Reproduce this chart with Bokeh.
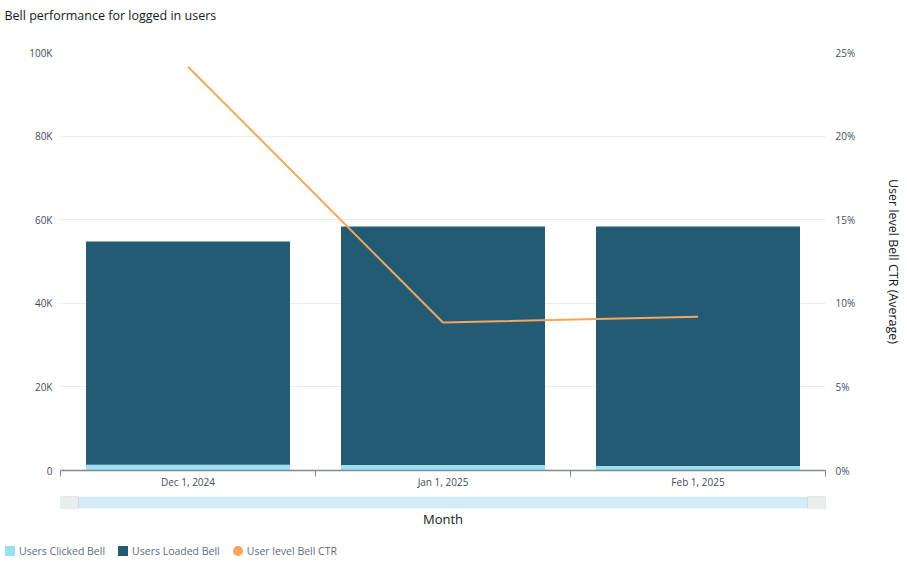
from bokeh.plotting import figure
from bokeh.models import (Range1d, LinearAxis, FixedTicker, NumeralTickFormatter, ColumnDataSource,
                          Title, Div)
from bokeh.layouts import column
from bokeh.embed import file_html
from bokeh.resources import INLINE

months = ["Dec 1, 2024", "Jan 1, 2025", "Feb 1, 2025"]
users_clicked = [1400, 1300, 1100]
users_loaded = [53400, 57100, 57300]
ctr = [0.2415, 0.0885, 0.092]
left_ticks = [0, 20000, 40000, 60000, 80000, 100000]
left_labels = ["0", "20K", "40K", "60K", "80K", "100K"]
right_ticks = [0, 0.05, 0.10, 0.15, 0.20, 0.25]
series_names = ["Users Clicked Bell", "Users Loaded Bell", "User level Bell CTR"]

FONT = "Open Sans"
LIGHT = "#9bdff0"
DARK = "#235b75"
ORANGE = "#f5a65b"
AXIS = "#7d8998"
GRID = "#e9ebed"
LABEL = "#414d5c"
FRAME_L, FRAME_W, FRAME_R = 60, 765, 82

n = len(months)
centers = [i + 0.5 for i in range(n)]
bounds = [float(i) for i in range(n + 1)]
unit = FRAME_W / n

# ---- main chart ----
src = ColumnDataSource(dict(x=centers, clicked=users_clicked, loaded=users_loaded, ctr=ctr))

p = figure(frame_width=FRAME_W, frame_height=418, x_range=Range1d(0, n),
           y_range=Range1d(0, 100000), min_border_left=FRAME_L, min_border_right=FRAME_R,
           min_border_top=52, min_border_bottom=26, output_backend="svg",
           toolbar_location=None)
p.outline_line_color = None
# spacer between title and plot area, then the title itself
p.add_layout(Title(text=" ", text_font_size="1px", standoff=26), "above")
p.add_layout(Title(text="Bell performance for logged in users", align="left", offset=-56,
                   standoff=0, text_font=FONT, text_font_size="12.5px",
                   text_font_style="normal", text_color="#16191f"), "above")

p.vbar_stack(["clicked", "loaded"], x="x", width=0.8, source=src,
             color=[LIGHT, DARK], line_color=None)

p.extra_y_ranges = {"ctr": Range1d(0, 0.25)}
p.line("x", "ctr", source=src, y_range_name="ctr", line_color=ORANGE, line_width=2)

xa = p.xaxis[0]
xa.ticker = FixedTicker(ticks=centers, minor_ticks=bounds)
xa.major_label_overrides = {c: m for c, m in zip(centers, months)}
xa.major_tick_line_color = None
xa.major_tick_in = 0
xa.major_tick_out = 0
xa.minor_tick_in = 0
xa.minor_tick_out = 6
xa.minor_tick_line_color = AXIS
xa.axis_line_color = AXIS
xa.axis_line_width = 1.5
xa.major_label_standoff = -2
xa.major_label_text_font = FONT
xa.major_label_text_font_size = "10px"
xa.major_label_text_color = LABEL

ya = p.yaxis[0]
ya.ticker = FixedTicker(ticks=left_ticks)
ya.major_label_overrides = {t: l for t, l in zip(left_ticks, left_labels)}
ya.axis_line_color = None
ya.major_tick_line_color = None
ya.major_tick_out = 0
ya.major_tick_in = 0
ya.minor_tick_line_color = None
ya.major_label_standoff = 8
ya.major_label_text_font = FONT
ya.major_label_text_font_size = "10px"
ya.major_label_text_color = LABEL

p.xgrid.visible = False
p.ygrid.ticker = FixedTicker(ticks=left_ticks)
p.ygrid.grid_line_color = GRID

ra = LinearAxis(y_range_name="ctr", ticker=FixedTicker(ticks=right_ticks),
                formatter=NumeralTickFormatter(format="0%"),
                axis_label="User level Bell CTR (Average)")
ra.axis_line_color = None
ra.major_tick_line_color = None
ra.major_tick_out = 0
ra.major_tick_in = 0
ra.minor_tick_line_color = None
ra.major_label_standoff = 10
ra.major_label_text_font = FONT
ra.major_label_text_font_size = "10px"
ra.major_label_text_color = LABEL
ra.axis_label_orientation = "vertical"
ra.axis_label_standoff = 27
ra.axis_label_text_font = FONT
ra.axis_label_text_font_size = "12.5px"
ra.axis_label_text_font_style = "normal"
ra.axis_label_text_color = "#16191f"
p.add_layout(ra, "right")

# ---- lower strip: scrollbar (frame) and axis title ----
p2 = figure(frame_width=FRAME_W, frame_height=12, x_range=p.x_range, y_range=Range1d(0, 1),
            min_border_left=FRAME_L, min_border_right=FRAME_R, min_border_top=0,
            min_border_bottom=30, output_backend="svg", toolbar_location=None)
p2.yaxis.visible = False
p2.grid.visible = False
p2.outline_line_color = None

hw = 18 / unit
p2.quad(left=[0], right=[n], top=[1], bottom=[0], fill_color="#d3ebf6", line_color=None)
p2.quad(left=[0, n - hw], right=[hw, n], top=[1, 1], bottom=[0, 0],
        fill_color="#eaeded", line_color="#d5dbdb")

bx = p2.xaxis[0]
bx.ticker = FixedTicker(ticks=[])
bx.axis_line_color = None
bx.major_tick_out = 0
bx.major_tick_in = 0
bx.minor_tick_out = 0
bx.minor_tick_in = 0
bx.major_label_standoff = 0
bx.axis_label = "Month"
bx.axis_label_standoff = 1
bx.axis_label_text_font = FONT
bx.axis_label_text_font_size = "13px"
bx.axis_label_text_font_style = "normal"
bx.axis_label_text_color = "#16191f"

# ---- legend ----
swatches = [(LIGHT, "0"), (DARK, "0"), (ORANGE, "50%")]
items = "".join(
    f'<span style="display:inline-flex;align-items:center;margin-right:13px;">'
    f'<span style="display:inline-block;width:10px;height:10px;background:{c};'
    f'border-radius:{r};margin-right:4px;"></span>{name}</span>'
    for (c, r), name in zip(swatches, series_names))
legend = Div(text=f'<div style="display:flex;align-items:center;height:14px;">{items}</div>',
             width=907, height=36, margin=0,
             styles={"padding-left": "5px", "padding-top": "6px", "box-sizing": "border-box",
                     "font-family": FONT, "font-size": "10.5px", "color": "#5f6b7a",
                     "line-height": "14px"})

layout = column(p, p2, legend, spacing=0)
open("out.html", "w").write(file_html(layout, INLINE))
